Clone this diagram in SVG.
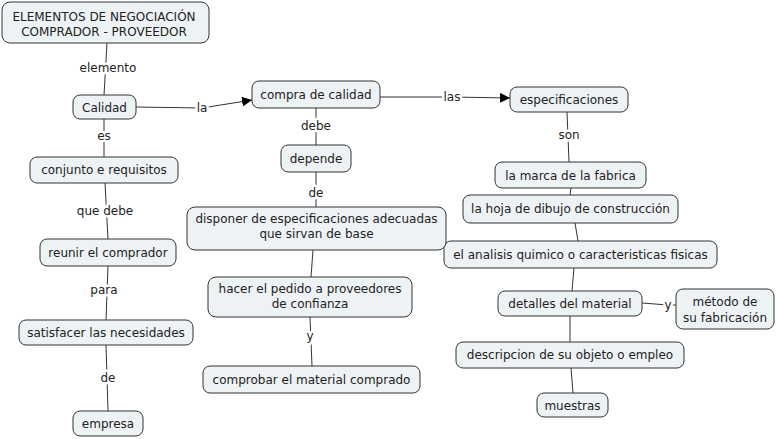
<svg xmlns="http://www.w3.org/2000/svg" width="777" height="439" viewBox="0 0 777 439">
<style>
.n rect{fill:#edf3f5;stroke:#333;stroke-width:1}
text{font-family:"DejaVu Sans",Verdana,sans-serif;font-size:12px;fill:#222;text-anchor:middle}
.c line,.c polyline{stroke:#333;stroke-width:1;fill:none}
.l{paint-order:stroke;stroke:#fff;stroke-width:5px;stroke-linejoin:round}
</style>
<defs>
<marker id="ar" viewBox="0 0 10 10" refX="10" refY="5" markerWidth="10" markerHeight="10" markerUnits="userSpaceOnUse" orient="auto">
<path d="M0,0L10,5L0,10Z" fill="#000"/>
</marker>
</defs>
<rect width="777" height="439" fill="#fff"/>
<g class="c" id="connectors">
<line x1="107" y1="43" x2="104" y2="95"/>
<polyline points="136,107 202,108 252,100" marker-end="url(#ar)"/>
<polyline points="380,97 452,97 510,98" marker-end="url(#ar)"/>
<line x1="104" y1="119" x2="104" y2="157"/>
<line x1="105" y1="183" x2="108" y2="239"/>
<line x1="108" y1="266" x2="106" y2="320"/>
<line x1="106" y1="345" x2="108" y2="411"/>
<line x1="316" y1="108" x2="316" y2="145"/>
<line x1="316" y1="172" x2="316" y2="207"/>
<line x1="313" y1="250" x2="311" y2="277"/>
<line x1="310" y1="317" x2="312" y2="366"/>
<line x1="567" y1="112" x2="569" y2="162"/>
<line x1="571" y1="188" x2="570" y2="195"/>
<line x1="575" y1="223" x2="578" y2="241"/>
<line x1="574" y1="268" x2="572" y2="291"/>
<polyline points="642,303 668,305 676,305"/>
<line x1="570" y1="316" x2="570" y2="342"/>
<line x1="571" y1="368" x2="573" y2="393"/>
<text class="l" x="108" y="72">elemento</text>
<text class="l" x="202" y="112">la</text>
<text class="l" x="452" y="101">las</text>
<text class="l" x="104" y="140">es</text>
<text class="l" x="105" y="215">que debe</text>
<text class="l" x="104" y="294">para</text>
<text class="l" x="108" y="382">de</text>
<text class="l" x="316" y="130">debe</text>
<text class="l" x="316" y="197">de</text>
<text class="l" x="310" y="340">y</text>
<text class="l" x="569" y="139">son</text>
<text class="l" x="668" y="309">y</text>
</g>
<g class="n" id="n1"><rect x="2" y="2" width="207" height="41" rx="8"/><text x="104" y="21">ELEMENTOS DE NEGOCIACIÓN</text><text x="104" y="36">COMPRADOR - PROVEEDOR</text></g>
<g class="n" id="n2"><rect x="73" y="95" width="63" height="24" rx="7"/><text x="104.5" y="112">Calidad</text></g>
<g class="n" id="n3"><rect x="252" y="81" width="128" height="27" rx="7"/><text x="316" y="99">compra de calidad</text></g>
<g class="n" id="n4"><rect x="510" y="87" width="118" height="25" rx="7"/><text x="569" y="104">especificaciones</text></g>
<g class="n" id="n5"><rect x="281" y="145" width="70" height="27" rx="7"/><text x="316" y="163">depende</text></g>
<g class="n" id="n6"><rect x="495" y="162" width="151" height="26" rx="7"/><text x="570.5" y="180">la marca de la fabrica</text></g>
<g class="n" id="n7"><rect x="463" y="195" width="215" height="28" rx="7"/><text x="570.5" y="213">la hoja de dibujo de construcción</text></g>
<g class="n" id="n8"><rect x="444" y="241" width="273" height="27" rx="7"/><text x="580.5" y="259">el analisis quimico o caracteristicas fisicas</text></g>
<g class="n" id="n9"><rect x="498" y="291" width="144" height="25" rx="7"/><text x="570" y="308">detalles del material</text></g>
<g class="n" id="n10"><rect x="676" y="289" width="98" height="40" rx="7"/><text x="725" y="306">método de</text><text x="725" y="322">su fabricación</text></g>
<g class="n" id="n11"><rect x="456" y="342" width="228" height="26" rx="7"/><text x="570" y="359">descripcion de su objeto o empleo</text></g>
<g class="n" id="n12"><rect x="537" y="393" width="71" height="24" rx="7"/><text x="572.5" y="410">muestras</text></g>
<g class="n" id="n13"><rect x="187" y="207" width="259" height="43" rx="8"/><text x="316.5" y="223">disponer de especificaciones adecuadas</text><text x="316.5" y="238">que sirvan de base</text></g>
<g class="n" id="n14"><rect x="208" y="277" width="204" height="40" rx="8"/><text x="310" y="293">hacer el pedido a proveedores</text><text x="310" y="308">de confianza</text></g>
<g class="n" id="n15"><rect x="203" y="366" width="217" height="27" rx="7"/><text x="311.5" y="384">comprobar el material comprado</text></g>
<g class="n" id="n16"><rect x="30" y="157" width="148" height="26" rx="7"/><text x="104" y="174">conjunto e requisitos</text></g>
<g class="n" id="n17"><rect x="40" y="239" width="136" height="27" rx="7"/><text x="108" y="257">reunir el comprador</text></g>
<g class="n" id="n18"><rect x="19" y="320" width="174" height="25" rx="7"/><text x="106" y="337">satisfacer las necesidades</text></g>
<g class="n" id="n19"><rect x="73" y="411" width="70" height="25" rx="7"/><text x="108" y="428">empresa</text></g>
</svg>
